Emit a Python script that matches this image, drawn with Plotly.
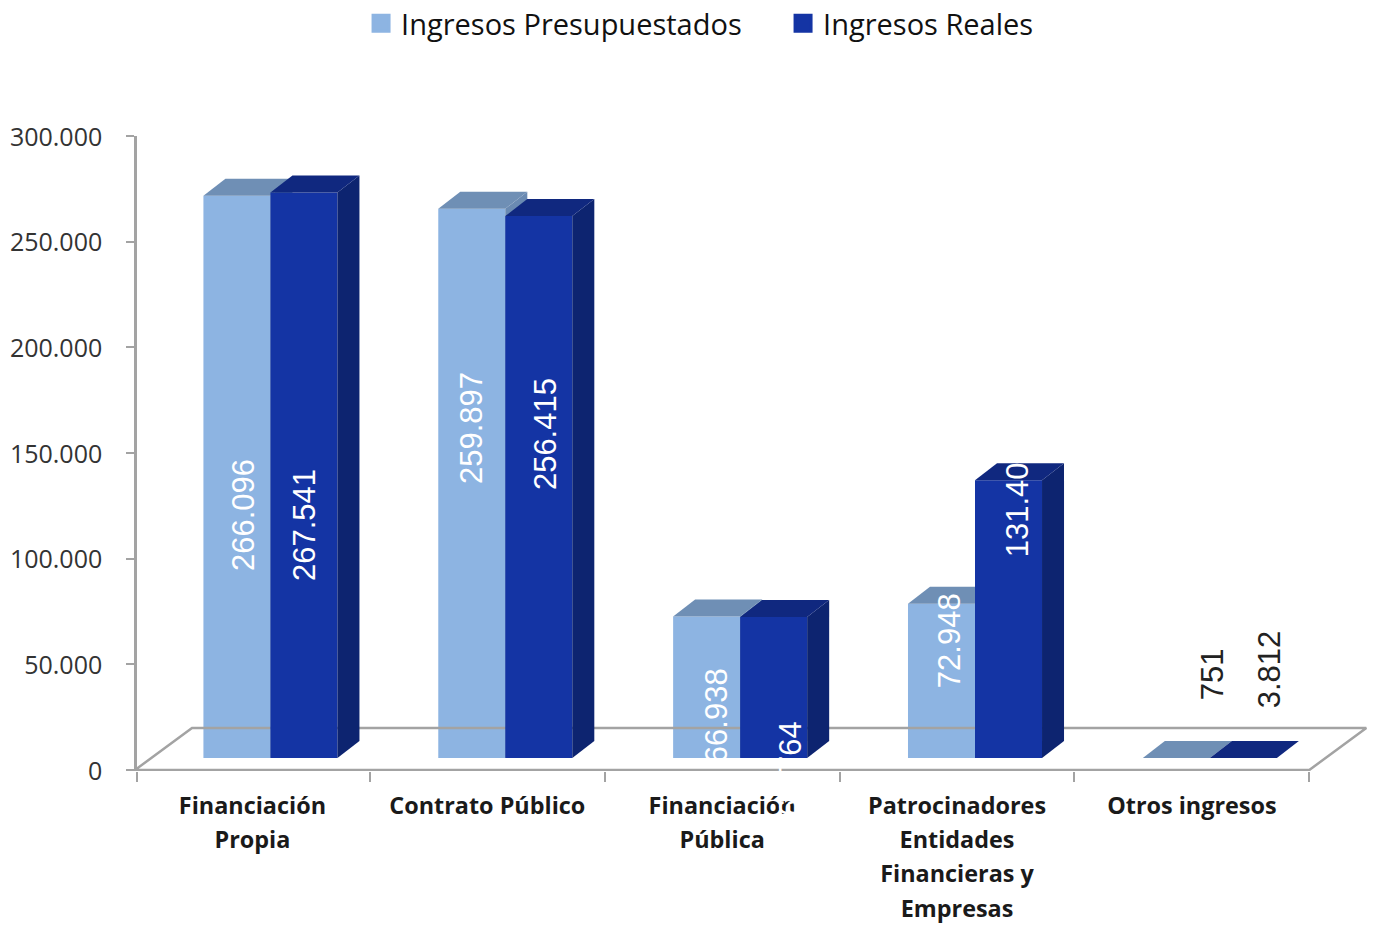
import plotly.graph_objects as go

CATEGORIES = ["Financiación<br>Propia", "Contrato Público", "Financiación<br>Pública",
              "Patrocinadores<br>Entidades<br>Financieras y<br>Empresas", "Otros ingresos"]
SERIES_NAMES = ["Ingresos Presupuestados", "Ingresos Reales"]
PRESUPUESTADOS = [266096, 259897, 66938, 72948, 0]
REALES = [267541, 256415, 66764, 131404, 0]
PRESUP_LABELS = ["266.096", "259.897", "66.938", "72.948", "751"]
REAL_LABELS = ["267.541", "256.415", "66.764", "131.404", "3.812"]
Y_TICKS = [0, 50000, 100000, 150000, 200000, 250000, 300000]
Y_TICK_LABELS = ["0", "50.000", "100.000", "150.000", "200.000", "250.000", "300.000"]

# geometry of the pseudo-3D view
W, H = 1375, 928
X0_PX, Y0_PX = 135, 770      # pixel of axis origin
PX_X = 234.8                 # pixels per category
PX_Y = 634 / 300000.0        # pixels per unit
X_MIN = 2 / PX_X             # the y axis line is drawn left of the plot area
X_MAX = 5.25
Y_MIN = -1 / PX_Y            # one pixel of room so the floor line is not clipped
L = X0_PX + X_MIN * PX_X
R = W - (X0_PX + X_MAX * PX_X)
T = Y0_PX - 634
B = H - Y0_PX - 1
BAR_W = 67 / PX_X
SHIFT = 18 / PX_X
DX = 22 / PX_X
DY = 17 / PX_Y
LIFT = 12 / PX_Y
FLOOR_DX = 57 / PX_X
FLOOR_DY = 42 / PX_Y

C_PRESUP = dict(front="#8DB4E2", side="#6A8AB2", top="#6F8FB5")
C_REAL = dict(front="#1434A4", side="#0D2470", top="#10287F")
GREY = "#A3A3A3"


def px_x(p):
    return (p - X0_PX) / PX_X


def px_y(p):
    return (Y0_PX - p) / PX_Y


fig = go.Figure()

# floor
fig.add_trace(go.Scatter(
    x=[5, 0, FLOOR_DX, 5 + FLOOR_DX, 5], y=[0, 0, FLOOR_DY, FLOOR_DY, 0], mode="lines",
    line=dict(color=GREY, width=2.5), showlegend=False, hoverinfo="skip"))


def add_series(values, colors, sign, xa, ya):
    xs = [i + 0.5 + SHIFT + sign * BAR_W / 2 for i in range(len(values))]
    fig.add_trace(go.Bar(
        x=xs, y=values, base=[LIFT] * len(values), width=BAR_W,
        marker=dict(color=colors["front"], line=dict(width=0)),
        showlegend=False, xaxis=xa, yaxis=ya, hoverinfo="skip"))
    for xc, v in zip(xs, values):
        x0, x1 = xc - BAR_W / 2, xc + BAR_W / 2
        top = LIFT + v
        if v > 0:
            fig.add_trace(go.Scatter(
                x=[x1, x1 + DX, x1 + DX, x1, x1], y=[LIFT, LIFT + DY, top + DY, top, LIFT],
                mode="lines", fill="toself", fillcolor=colors["side"], line=dict(width=0),
                showlegend=False, xaxis=xa, yaxis=ya, hoverinfo="skip"))
        fig.add_trace(go.Scatter(
            x=[x0, x0 + DX, x1 + DX, x1, x0], y=[top, top + DY, top + DY, top, top],
            mode="lines", fill="toself", fillcolor=colors["top"], line=dict(width=0),
            showlegend=False, xaxis=xa, yaxis=ya, hoverinfo="skip"))


add_series(PRESUPUESTADOS, C_PRESUP, -1, "x", "y")
add_series(REALES, C_REAL, 1, "x2", "y2")

# legend entries
for name, col in zip(SERIES_NAMES, (C_PRESUP["front"], C_REAL["front"])):
    fig.add_trace(go.Scatter(
        x=[None], y=[None], mode="markers", name=name,
        marker=dict(symbol="square", size=16, color=col, line=dict(width=3, color=col))))

# value labels: (x centre px, y centre px, colour)
LABEL_PLACES = [
    (243, 515, "#FFFFFF"), (471, 428, "#FFFFFF"), (716, 716, "#FFFFFF"), (949, 641, "#FFFFFF"), (1212, 674, "#222222"),
    (304, 525, "#FFFFFF"), (545, 434, "#FFFFFF"), (790, 769, "#FFFFFF"), (1017, 501, "#FFFFFF"), (1269, 669, "#222222"),
]
for txt, (px, py, col) in zip(PRESUP_LABELS + REAL_LABELS, LABEL_PLACES):
    fig.add_annotation(x=px_x(px), y=px_y(py), xref="x", yref="y", text=txt, textangle=-90,
                       showarrow=False, font=dict(family="Liberation Sans", size=31, color=col))

CAT_SIZE = 23.4
cat_text = ["<br>".join(f'<span style="font-size:{CAT_SIZE}px">{part}</span>' for part in c.split("<br>"))
            for c in CATEGORIES]

fig.update_layout(
    width=W, height=H, margin=dict(l=L, r=R, t=T, b=B, pad=0, autoexpand=False),
    paper_bgcolor="white", plot_bgcolor="white", barmode="overlay",
    font=dict(family="Open Sans", color="#262626"),
    legend=dict(orientation="h", x=(px_x(361) - X_MIN) / (X_MAX - X_MIN), y=(px_y(-2) - Y_MIN) / (300000 - Y_MIN),
                xanchor="left", yanchor="top",
                font=dict(family="Open Sans", size=29, color="#111111"), entrywidth=377,
                entrywidthmode="pixels", bgcolor="rgba(0,0,0,0)"),
    xaxis=dict(range=[X_MIN, X_MAX], showgrid=False, zeroline=False, showline=False,
               tickvals=[i + 0.5 for i in range(5)], ticktext=cat_text, ticks="", tickangle=0,
               ticklabelstandoff=15,
               tickfont=dict(family="Open Sans", size=26.5, color="#1A1A1A", weight=700),
               minor=dict(tickvals=[X_MIN, 1, 2, 3, 4, 5], ticks="outside", ticklen=10, tickwidth=2, tickcolor=GREY)),
    yaxis=dict(range=[Y_MIN, 300000], showgrid=False, zeroline=False, showline=True, linecolor=GREY, linewidth=2.5,
               tickvals=Y_TICKS, ticktext=Y_TICK_LABELS, ticks="outside", ticklen=8, tickwidth=2, tickcolor=GREY,
               ticklabelstandoff=19, ticklabelshift=1,
               tickfont=dict(family="Open Sans", size=25, color="#333333")),
    xaxis2=dict(range=[X_MIN, X_MAX], overlaying="x", visible=False),
    yaxis2=dict(range=[Y_MIN, 300000], overlaying="y", visible=False),
)

fig.write_html("out.html", post_script="document.body.style.margin='0';", config={"displayModeBar": False})
